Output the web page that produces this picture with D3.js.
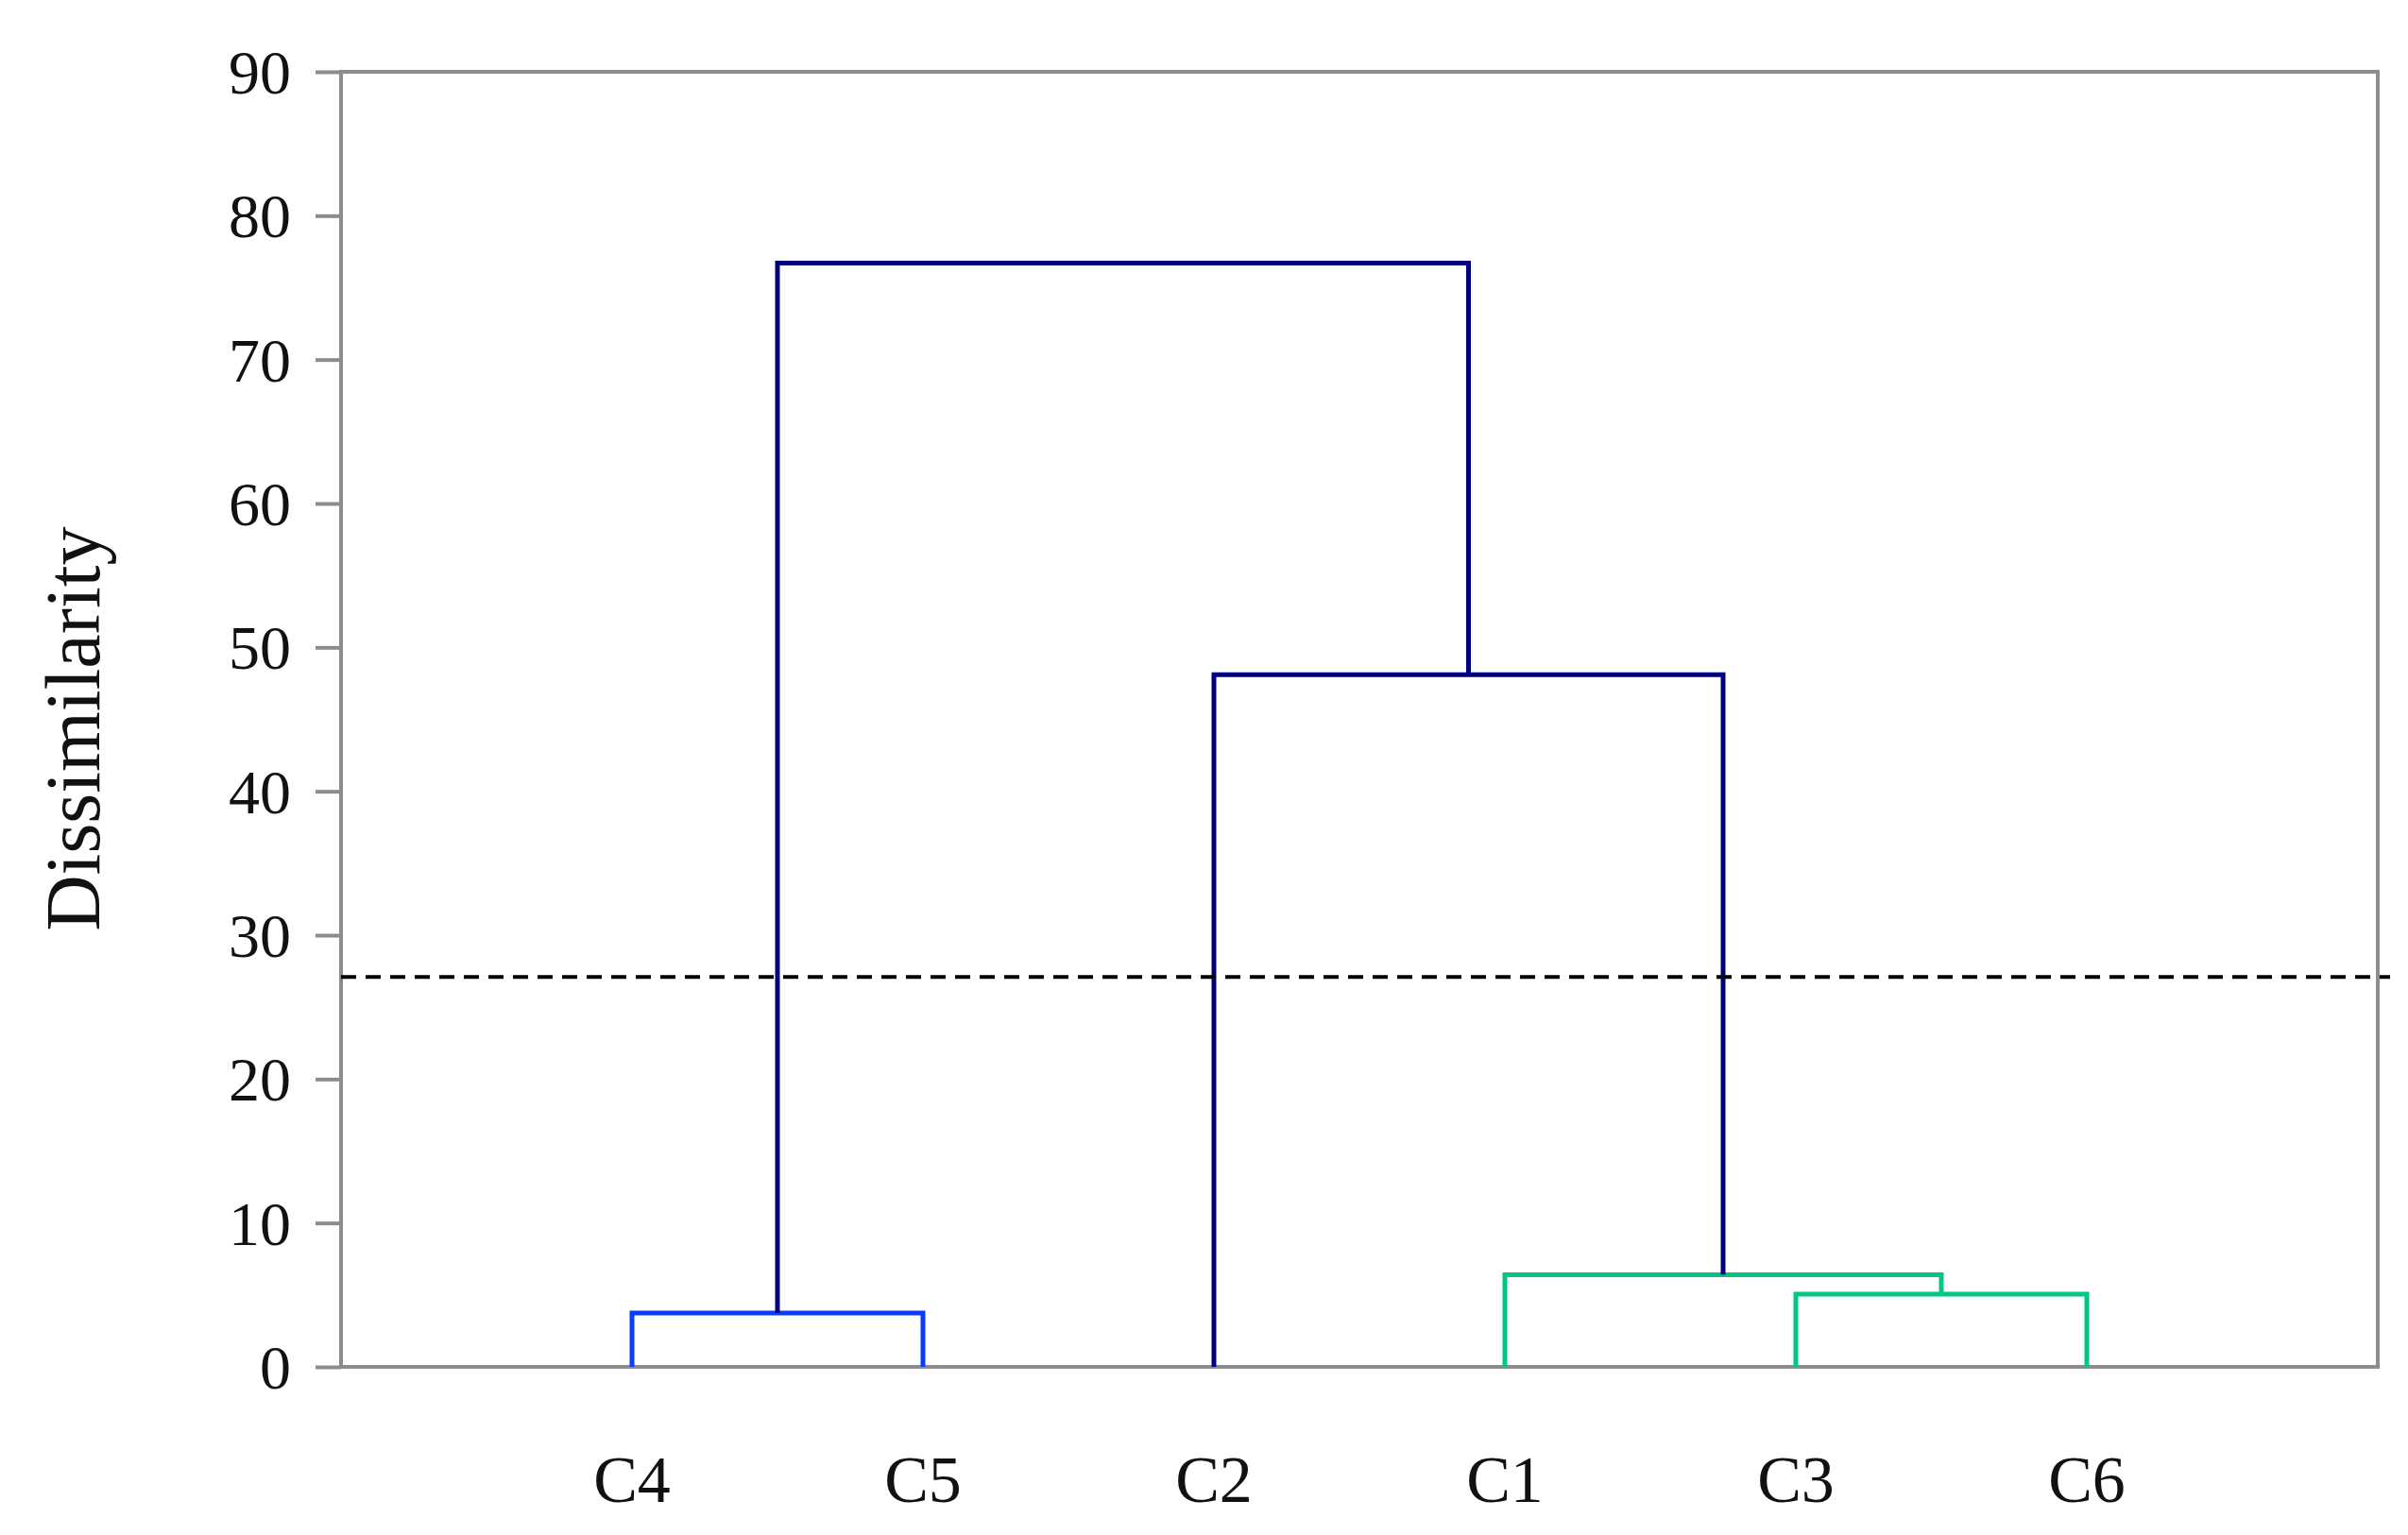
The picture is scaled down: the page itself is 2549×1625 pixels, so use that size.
<!DOCTYPE html>
<html><head><meta charset="utf-8">
<script src="https://cdn.jsdelivr.net/npm/d3@7"></script>
<style>body{margin:0;background:#fff}</style>
</head><body>
<script>
"use strict"

// Leaf order and merge heights
let leaves = ["C4", "C5", "C2", "C1", "C3", "C6"];
let yTicks = [0, 10, 20, 30, 40, 50, 60, 70, 80, 90];
// merges: [left, right, height, colour group]
let merges = [
    ["C4", "C5", 3.75, "blue"],
    ["C3", "C6", 5.05, "green"],
    ["C1", "C3+C6", 6.4, "green"],
    ["C2", "C1+C3+C6", 48.1, "navy"],
    ["C4+C5", "C2+C1+C3+C6", 76.7, "navy"]
];
let cutHeight = 27.1;

let colors = {blue: "#0a3cff", green: "#00c584", navy: "#00007f"};

let W = 2549, H = 1625;
let plotL = 361, plotR = 2517, plotT = 76, plotB = 1447;

let svg = d3.select("body").append("svg").attr("width", W).attr("height", H);

let x = d3.scalePoint().domain(leaves).range([plotL, plotR]).padding(1);
let y = d3.scaleLinear().domain([0, 90]).range([plotB, plotT]);

// frame
svg.append("rect").attr("x", plotL).attr("y", plotT)
    .attr("width", plotR - plotL).attr("height", plotB - plotT)
    .attr("fill", "none").attr("stroke", "#8c8c8c").attr("stroke-width", 4);

// y axis
let yAxis = svg.append("g").attr("transform", `translate(${plotL},0)`)
    .call(d3.axisLeft(y).tickValues(yTicks).tickSize(27).tickPadding(26));
yAxis.select(".domain").remove();
yAxis.selectAll("line").attr("stroke", "#8c8c8c").attr("stroke-width", 4);
yAxis.selectAll("text").attr("font-family", "Liberation Serif").attr("font-size", 66).attr("fill", "#111")
    .attr("dy", "0.34em");

// leaf labels
svg.append("g").selectAll("text").data(leaves).join("text")
    .attr("x", d => x(d)).attr("y", 1590)
    .attr("text-anchor", "middle")
    .attr("font-family", "Liberation Serif").attr("font-size", 70).attr("fill", "#111")
    .text(d => d);

svg.append("text")
    .attr("transform", `translate(105,${(plotT + plotB) / 2 + 10}) rotate(-90)`)
    .attr("text-anchor", "middle")
    .attr("font-family", "Liberation Serif").attr("font-size", 82).attr("fill", "#111")
    .text("Dissimilarity");

// build the dendrogram nodes
let nodes = {};
leaves.forEach(l => nodes[l] = {x: x(l), h: 0});
merges.forEach(([a, b, h, c]) => {
    let na = nodes[a], nb = nodes[b];
    svg.append("path")
        .attr("fill", "none").attr("stroke", colors[c]).attr("stroke-width", 5)
        .attr("d", `M${na.x},${y(na.h)}V${y(h)}H${nb.x}V${y(nb.h)}`);
    nodes[a + "+" + b] = {x: (na.x + nb.x) / 2, h: h};
});

// cut line
svg.append("line")
    .attr("x1", plotL).attr("x2", 2530)
    .attr("y1", y(cutHeight)).attr("y2", y(cutHeight))
    .attr("stroke", "#000").attr("stroke-width", 4).attr("stroke-dasharray", "16,10");
</script>
</body></html>
